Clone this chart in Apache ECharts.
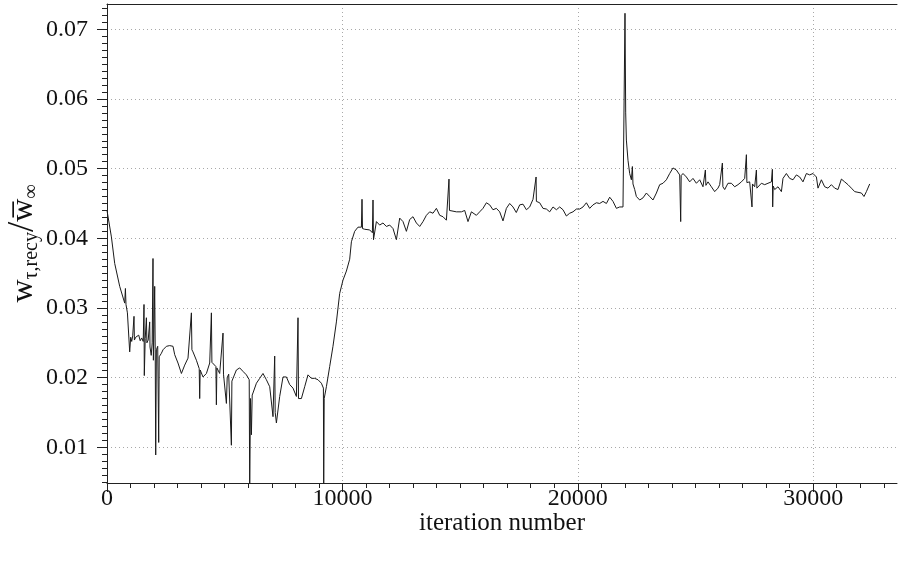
<!DOCTYPE html>
<html>
<head>
<meta charset="utf-8">
<script src="https://cdn.jsdelivr.net/npm/echarts@6/dist/echarts.min.js"></script>
<style>html,body{margin:0;padding:0;background:#fff}#c{width:898px;height:565px}</style>
</head>
<body>
<div id="c"></div>
<script>
// iteration numbers
const iters = [0,42,187,327,540,752,782,807,867,964,1007,1049,1092,1147,1164,1219,1283,1347,1410,1474,1538,1572,1585,1623,1674,1695,1750,1814,1827,1878,1920,1954,1971,2026,2048,2069,2098,2154,2196,2217,2311,2379,2523,2663,2804,2876,3016,3161,3301,3441,3585,3607,3653,3798,3917,3938,3959,4078,4223,4363,4435,4456,4503,4626,4647,4668,4787,4928,4949,5072,5106,5170,5284,5306,5353,5497,5637,5777,5922,6041,6062,6096,6134,6168,6202,6347,6487,6627,6771,6912,7052,7124,7145,7196,7336,7477,7621,7761,7901,8046,8114,8135,8258,8398,8538,8683,8823,8963,9108,9193,9206,9227,9320,9460,9600,9745,9885,10025,10170,10310,10382,10522,10662,10807,10833,10854,10947,11160,11274,11300,11321,11444,11584,11724,11869,12009,12150,12294,12434,12574,12719,12859,12999,13143,13284,13424,13568,13708,13849,13993,14133,14273,14418,14528,14549,14630,14843,15055,15195,15335,15480,15692,15832,15972,16117,16257,16397,16541,16682,16822,16966,17107,17247,17387,17532,17672,17816,17956,18097,18228,18241,18381,18521,18666,18806,18946,19091,19231,19371,19516,19656,19796,19940,20081,20221,20365,20505,20646,20790,20930,21070,21215,21355,21495,21640,21780,21920,21992,22005,22035,22064,22132,22204,22276,22319,22344,22417,22489,22629,22769,22914,23054,23194,23339,23479,23619,23763,23904,24044,24188,24328,24371,24392,24469,24613,24753,24893,25038,25178,25318,25420,25442,25531,25675,25815,25955,26027,26142,26163,26240,26380,26525,26665,26805,26950,27090,27162,27183,27230,27302,27400,27421,27514,27587,27608,27655,27799,27939,28079,28224,28266,28279,28300,28364,28505,28649,28717,28861,29001,29142,29286,29426,29566,29711,29851,29991,30136,30204,30348,30488,30628,30773,30913,31053,31198,31338,31478,31623,31763,31903,32048,32158,32260,32400];
// w_tau,recy / w_inf
const ratio = [0.0440,0.0438,0.0402,0.0364,0.0331,0.0307,0.0328,0.0305,0.0293,0.0237,0.0258,0.0252,0.0260,0.0288,0.0254,0.0258,0.0256,0.0261,0.0253,0.0257,0.0252,0.0305,0.0203,0.0256,0.0286,0.0250,0.0254,0.0280,0.0244,0.0232,0.0250,0.0371,0.0225,0.0331,0.0240,0.0089,0.0240,0.0245,0.0107,0.0230,0.0235,0.0240,0.0245,0.0246,0.0245,0.0233,0.0221,0.0206,0.0218,0.0228,0.0293,0.0240,0.0237,0.0225,0.0213,0.0170,0.0211,0.0201,0.0206,0.0221,0.0293,0.0222,0.0221,0.0216,0.0161,0.0214,0.0206,0.0264,0.0205,0.0163,0.0200,0.0205,0.0103,0.0195,0.0197,0.0211,0.0214,0.0209,0.0204,0.0197,0.0040,0.0170,0.0118,0.0175,0.0178,0.0192,0.0199,0.0206,0.0197,0.0187,0.0144,0.0231,0.0150,0.0135,0.0173,0.0201,0.0201,0.0190,0.0185,0.0173,0.0286,0.0170,0.0170,0.0187,0.0204,0.0199,0.0199,0.0197,0.0192,0.0185,0.0040,0.0170,0.0187,0.0216,0.0245,0.0280,0.0321,0.0340,0.0353,0.0370,0.0395,0.0410,0.0416,0.0416,0.0456,0.0414,0.0413,0.0412,0.0408,0.0455,0.0398,0.0424,0.0419,0.0422,0.0417,0.0419,0.0414,0.0398,0.0429,0.0424,0.0410,0.0427,0.0431,0.0422,0.0417,0.0424,0.0433,0.0438,0.0436,0.0443,0.0433,0.0431,0.0426,0.0485,0.0440,0.0441,0.0438,0.0438,0.0440,0.0424,0.0438,0.0433,0.0438,0.0443,0.0451,0.0448,0.0441,0.0443,0.0438,0.0425,0.0443,0.0450,0.0445,0.0437,0.0448,0.0449,0.0441,0.0445,0.0456,0.0488,0.0453,0.0451,0.0443,0.0442,0.0438,0.0445,0.0441,0.0445,0.0441,0.0432,0.0436,0.0438,0.0442,0.0442,0.0445,0.0451,0.0443,0.0448,0.0451,0.0450,0.0453,0.0450,0.0459,0.0453,0.0443,0.0445,0.0445,0.0443,0.0723,0.0580,0.0541,0.0512,0.0493,0.0484,0.0503,0.0478,0.0470,0.0460,0.0455,0.0458,0.0465,0.0460,0.0455,0.0465,0.0477,0.0479,0.0484,0.0493,0.0501,0.0498,0.0491,0.0424,0.0490,0.0493,0.0488,0.0481,0.0486,0.0479,0.0484,0.0474,0.0498,0.0476,0.0481,0.0474,0.0467,0.0472,0.0477,0.0508,0.0474,0.0470,0.0479,0.0479,0.0474,0.0477,0.0481,0.0486,0.0520,0.0480,0.0479,0.0481,0.0445,0.0478,0.0474,0.0498,0.0472,0.0470,0.0479,0.0477,0.0479,0.0481,0.0499,0.0445,0.0475,0.0470,0.0474,0.0467,0.0486,0.0493,0.0486,0.0484,0.0491,0.0488,0.0481,0.0493,0.0491,0.0493,0.0488,0.0472,0.0484,0.0474,0.0472,0.0477,0.0472,0.0470,0.0485,0.0481,0.0477,0.0472,0.0467,0.0466,0.0465,0.0460,0.0467,0.0478];

const xTickValues = [0, 10000, 20000, 30000];
const yTickValues = [0.01, 0.02, 0.03, 0.04, 0.05, 0.06, 0.07];
const yTickLabels = ['0.01', '0.02', '0.03', '0.04', '0.05', '0.06', '0.07'];
const xMinorValues = [];
for (let v = 1000; v <= 33000; v += 1000) xMinorValues.push(v);
const yMinorValues = [];
for (let k = 5; k <= 73; k++) yMinorValues.push(k / 1000);

const X_MIN = 0, X_MAX = 33560, Y_MIN = 0.00488, Y_MAX = 0.07363;
const FONT = '"Liberation Serif", "DejaVu Serif", serif';

const chart = echarts.init(document.getElementById('c'), null, {renderer: 'canvas'});
const gridLine = {show: true, lineStyle: {color: '#a8a8a8', type: [1, 3], width: 1}};
chart.setOption({
  animation: false,
  backgroundColor: '#fff',
  grid: {left: 107, right: 1, top: 4, bottom: 82, containLabel: false, outerBoundsMode: 'none'},
  xAxis: [
    {
      type: 'value', position: 'bottom', min: X_MIN, max: X_MAX,
      axisLine: {show: true, onZero: false, lineStyle: {color: '#222', width: 1}},
      axisTick: {show: true, customValues: xTickValues, length: 9, inside: false, lineStyle: {color: '#222'}},
      axisLabel: {show: true, customValues: xTickValues, margin: 4, color: '#111', fontFamily: FONT, fontSize: 24,
        formatter: v => String(v)},
      splitLine: gridLine,
      name: 'iteration number', nameLocation: 'middle', nameGap: 28, nameMoveOverlap: false,
      nameTextStyle: {fontFamily: FONT, fontSize: 25, color: '#111', verticalAlign: 'top'}
    },
    {
      type: 'value', position: 'bottom', min: X_MIN, max: X_MAX, gridIndex: 0,
      axisLine: {show: false},
      axisTick: {show: true, customValues: xMinorValues, length: 5, lineStyle: {color: '#222'}},
      axisLabel: {show: false}, splitLine: {show: false}
    },
    {
      type: 'value', position: 'top', min: X_MIN, max: X_MAX, gridIndex: 0,
      axisLine: {show: true, lineStyle: {color: '#222', width: 1}},
      axisTick: {show: false}, axisLabel: {show: false}, splitLine: {show: false}
    }
  ],
  yAxis: [
    {
      type: 'value', position: 'left', min: Y_MIN, max: Y_MAX,
      axisLine: {show: true, onZero: false, lineStyle: {color: '#222', width: 1}},
      axisTick: {show: true, customValues: yTickValues, length: 10, lineStyle: {color: '#222'}},
      axisLabel: {show: true, customValues: yTickValues, margin: 19, color: '#111', fontFamily: FONT, fontSize: 24,
        formatter: v => yTickLabels[yTickValues.findIndex(t => Math.abs(t - v) < 1e-9)] || v.toFixed(2)},
      splitLine: gridLine,
      name: '{w|w}{s|τ,recy}{sl|/}{w|w\u0305}{s|∞}',
      nameLocation: 'middle', nameRotate: 90, nameGap: 65, nameMoveOverlap: false,
      nameTextStyle: {
        fontFamily: FONT, color: '#111',
        rich: {
          w: {fontFamily: FONT, fontSize: 32, color: '#111'},
          s: {fontFamily: FONT, fontSize: 20, color: '#111', verticalAlign: 'bottom', padding: [12, 0, 0, 0]},
          sl: {fontFamily: FONT, fontSize: 37, color: '#111'}
        }
      }
    },
    {
      type: 'value', position: 'left', min: Y_MIN, max: Y_MAX,
      axisLine: {show: false},
      axisTick: {show: true, customValues: yMinorValues, length: 5, lineStyle: {color: '#222'}},
      axisLabel: {show: false}, splitLine: {show: false}
    }
  ],
  series: [{
    type: 'line',
    xAxisIndex: 0, yAxisIndex: 0,
    data: iters.map((x, i) => [x, ratio[i]]),
    showSymbol: false, symbol: 'none', clip: true,
    lineStyle: {color: '#1a1a1a', width: 1}
  }]
});
</script>
</body>
</html>
